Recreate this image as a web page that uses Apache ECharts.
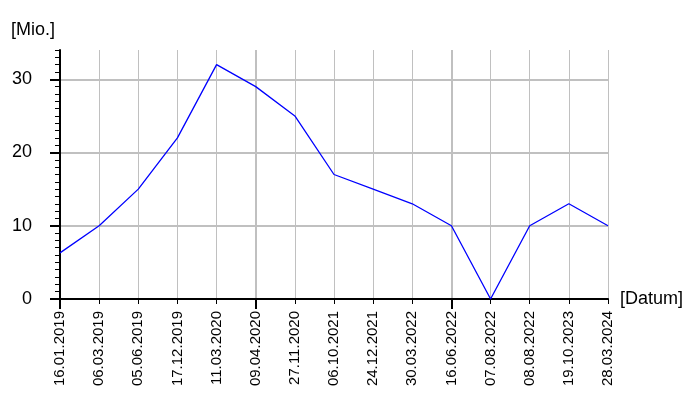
<!DOCTYPE html>
<html>
<head>
<meta charset="utf-8">
<script src="https://cdn.jsdelivr.net/npm/echarts@6/dist/echarts.min.js"></script>
<style>html,body{margin:0;padding:0;background:#fff}#c{width:700px;height:400px}</style>
</head>
<body>
<div id="c"></div>
<script>
const categories = ['16.01.2019','06.03.2019','05.06.2019','17.12.2019','11.03.2020','09.04.2020','27.11.2020','06.10.2021','24.12.2021','30.03.2022','16.06.2022','07.08.2022','08.08.2022','19.10.2023','28.03.2024'];
const values = [6.3, 10, 15, 22, 32, 29, 25, 17, 15, 13, 10, 0, 10, 13, 10];
const yMajorTicks = [0, 10, 20, 30];
const yMax = 34;
const yName = '[Mio.]';
const xName = '[Datum]';

const FONT = 'Liberation Sans';
const gridColors = ['#c0c0c0'].concat(Array(9).fill('rgba(0,0,0,0)'));
const chart = echarts.init(document.getElementById('c'), null, {renderer: 'canvas'});
chart.setOption({
  animation: false,
  backgroundColor: '#ffffff',
  grid: {left: 60, right: 92, top: 50, bottom: 101, containLabel: false},
  xAxis: [{
    type: 'category', data: categories, boundaryGap: false, position: 'bottom',
    name: xName, nameLocation: 'end', nameGap: 12,
    nameTextStyle: {fontFamily: FONT, fontSize: 18, color: '#000', verticalAlign: 'middle'},
    axisLine: {show: true, lineStyle: {color: '#000', width: 2}},
    axisTick: {show: true, interval: 0, length: 5, lineStyle: {color: '#000', width: 1}},
    axisLabel: {show: true, interval: 0, rotate: 90, margin: 12, fontFamily: FONT, fontSize: 15, color: '#000'},
    splitLine: {show: true, interval: 0, lineStyle: {color: '#c0c0c0', width: 1}}
  }, {
    type: 'category', data: categories, boundaryGap: false, position: 'bottom',
    axisLine: {show: false},
    axisTick: {show: true, interval: 4, length: 10, lineStyle: {color: '#000', width: 2}},
    axisLabel: {show: false},
    splitLine: {show: true, interval: 4, lineStyle: {color: '#c0c0c0', width: 2}}
  }],
  yAxis: [{
    type: 'value', min: 0, max: yMax, interval: 1, position: 'left',
    name: yName, nameLocation: 'end', nameGap: 20,
    nameTextStyle: {fontFamily: FONT, fontSize: 18, color: '#000', align: 'right', verticalAlign: 'middle', padding: [0, 5, 0, 0]},
    axisLine: {show: true, lineStyle: {color: '#000', width: 2}},
    axisTick: {show: true, length: 5, lineStyle: {color: '#000', width: 1}},
    axisLabel: {show: true, margin: 28, fontFamily: FONT, fontSize: 18, color: '#000',
      formatter: function (v) { return yMajorTicks.indexOf(v) >= 0 ? String(v) : ''; }},
    splitLine: {show: true, lineStyle: {color: gridColors, width: 2}}
  }, {
    type: 'value', min: 0, max: yMax, interval: 10, position: 'left',
    axisLine: {show: false},
    axisTick: {show: true, customValues: yMajorTicks, length: 10, lineStyle: {color: '#000', width: 2}},
    axisLabel: {show: false},
    splitLine: {show: false}
  }],
  series: [{
    type: 'line', data: values, xAxisIndex: 0, yAxisIndex: 0,
    showSymbol: false, symbol: 'none',
    lineStyle: {color: '#0000ff', width: 1.3}
  }]
});
</script>
</body>
</html>
